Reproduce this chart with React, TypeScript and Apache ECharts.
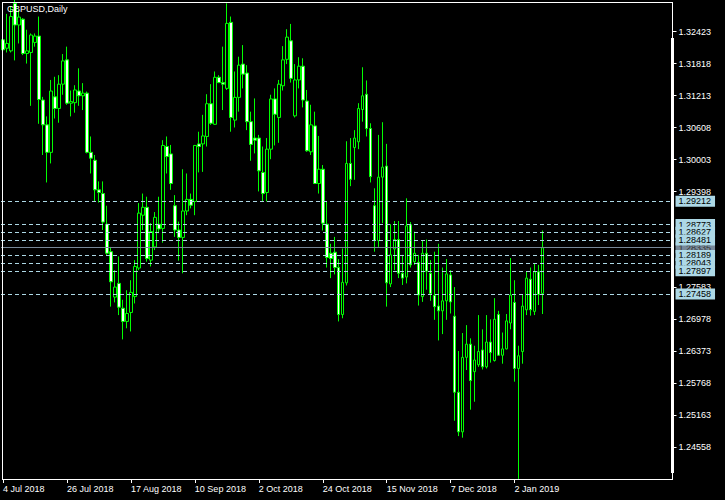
import React, { useEffect, useRef } from "react";
import * as echarts from "echarts";

// trading days shown (categories)
const monthDays: [string, string, number[]][] = [
  ["Jul", "2018", [4, 5, 6, 9, 10, 11, 12, 13, 16, 17, 18, 19, 20, 23, 24, 25, 26, 27, 30, 31]],
  ["Aug", "2018", [1, 2, 3, 6, 7, 8, 9, 10, 13, 14, 15, 16, 17, 20, 21, 22, 23, 24, 27, 28, 29, 30, 31]],
  ["Sep", "2018", [3, 4, 5, 6, 7, 10, 11, 12, 13, 14, 17, 18, 19, 20, 21, 24, 25, 26, 27, 28]],
  ["Oct", "2018", [1, 2, 3, 4, 5, 8, 9, 10, 11, 12, 15, 16, 17, 18, 19, 22, 23, 24, 25, 26, 29, 30, 31]],
  ["Nov", "2018", [1, 2, 5, 6, 7, 8, 9, 12, 13, 14, 15, 16, 19, 20, 21, 22, 23, 26, 27, 28, 29, 30]],
  ["Dec", "2018", [3, 4, 5, 6, 7, 10, 11, 12, 13, 14, 17, 18, 19, 20, 21, 24, 26, 27, 28, 31]],
  ["Jan", "2019", [2, 3, 4, 7, 8, 9, 10, 11]],
];
const dates: string[] = monthDays.flatMap(([m, y, ds]) => ds.map((d) => `${d} ${m} ${y}`));

const opens = [
  1.3227, 1.3211, 1.3206, 1.3296, 1.3255, 1.3266, 1.3201, 1.3203, 1.3222, 1.3234,
  1.3113, 1.3066, 1.3014, 1.3119, 1.3097, 1.3143, 1.3189, 1.3107, 1.3108, 1.3130,
  1.3121, 1.3126, 1.3014, 1.2999, 1.2943, 1.2936, 1.2878, 1.2826, 1.2740, 1.2766,
  1.2719, 1.2694, 1.2711, 1.2741, 1.2795, 1.2895, 1.2910, 1.2810, 1.2835, 1.2878,
  1.2870, 1.3025, 1.3011, 1.2913, 1.2867, 1.2853, 1.2903, 1.2925, 1.2921, 1.3030,
  1.3030, 1.3044, 1.3106, 1.3067, 1.3156, 1.3146, 1.3135, 1.3260, 1.3075, 1.3118,
  1.3181, 1.3164, 1.3072, 1.3041, 1.3041, 1.2976, 1.2938, 1.3020, 1.3115, 1.3080,
  1.3140, 1.3190, 1.3225, 1.3083, 1.3151, 1.3177, 1.3111, 1.3015, 1.3064, 1.2955,
  1.2982, 1.2878, 1.2823, 1.2825, 1.2796, 1.2707, 1.2767, 1.2993, 1.3023, 1.3034,
  1.3095, 1.3124, 1.3059, 1.2913, 1.2847, 1.2967, 1.2988, 1.2765, 1.2831, 1.2849,
  1.2785, 1.2778, 1.2877, 1.2807, 1.2806, 1.2741, 1.2823, 1.2785, 1.2743, 1.2723,
  1.2714, 1.2733, 1.2782, 1.2704, 1.2560, 1.2485, 1.2626, 1.2651, 1.2599, 1.2612,
  1.2640, 1.2608, 1.2655, 1.2620, 1.2707, 1.2630, 1.2642, 1.2691, 1.2730, 1.2605,
  1.2637, 1.2716, 1.2774, 1.2713, 1.2788, 1.2747,
];
const highs = [
  1.3228, 1.3276, 1.3291, 1.3305, 1.3283, 1.3268, 1.3246, 1.3239, 1.3239, 1.3271,
  1.3119, 1.3082, 1.3151, 1.3157, 1.3160, 1.3200, 1.3214, 1.3131, 1.3141, 1.3173,
  1.3145, 1.3129, 1.3044, 1.3009, 1.2959, 1.2959, 1.2913, 1.2835, 1.2791, 1.2817,
  1.2735, 1.2753, 1.2772, 1.2810, 1.2918, 1.2936, 1.2930, 1.2880, 1.2901, 1.2930,
  1.3037, 1.3044, 1.3028, 1.2933, 1.2883, 1.2982, 1.2974, 1.2936, 1.3028, 1.3053,
  1.3085, 1.3124, 1.3143, 1.3167, 1.3160, 1.3214, 1.3296, 1.3271, 1.3167, 1.3195,
  1.3217, 1.3179, 1.3091, 1.3116, 1.3047, 1.3025, 1.3041, 1.3123, 1.3135, 1.3151,
  1.3215, 1.3247, 1.3257, 1.3181, 1.3194, 1.3192, 1.3132, 1.3104, 1.3091, 1.3045,
  1.2990, 1.2922, 1.2841, 1.2854, 1.2812, 1.2832, 1.3035, 1.3041, 1.3056, 1.3107,
  1.3175, 1.3150, 1.3069, 1.2946, 1.3047, 1.3071, 1.3030, 1.2878, 1.2884, 1.2884,
  1.2820, 1.2927, 1.2882, 1.2864, 1.2820, 1.2848, 1.2849, 1.2810, 1.2826, 1.2841,
  1.2796, 1.2812, 1.2791, 1.2759, 1.2638, 1.2672, 1.2687, 1.2662, 1.2648, 1.2706,
  1.2679, 1.2706, 1.2698, 1.2738, 1.2714, 1.2673, 1.2708, 1.2814, 1.2772, 1.2648,
  1.2744, 1.2789, 1.2796, 1.2804, 1.2801, 1.2866,
];
const lows = [
  1.3189, 1.3203, 1.3203, 1.3188, 1.3220, 1.3198, 1.3182, 1.3102, 1.3214, 1.3068,
  1.3009, 1.2957, 1.2993, 1.3078, 1.3070, 1.3123, 1.3104, 1.3082, 1.3089, 1.3102,
  1.3094, 1.3012, 1.2974, 1.2921, 1.2919, 1.2867, 1.2820, 1.2722, 1.2730, 1.2706,
  1.2660, 1.2681, 1.2675, 1.2728, 1.2791, 1.2867, 1.2807, 1.2798, 1.2829, 1.2861,
  1.2843, 1.2974, 1.2943, 1.2854, 1.2809, 1.2785, 1.2895, 1.2908, 1.2895, 1.2976,
  1.2977, 1.3025, 1.3066, 1.3066, 1.3145, 1.3094, 1.3132, 1.3053, 1.3061, 1.3091,
  1.3135, 1.3056, 1.2998, 1.3012, 1.2940, 1.2921, 1.2921, 1.3001, 1.3027, 1.3032,
  1.3131, 1.3181, 1.3146, 1.3080, 1.3135, 1.3099, 1.3015, 1.3009, 1.2954, 1.2936,
  1.2866, 1.2796, 1.2776, 1.2783, 1.2694, 1.2700, 1.2762, 1.2950, 1.2962, 1.3020,
  1.3072, 1.3044, 1.2957, 1.2826, 1.2835, 1.2880, 1.2722, 1.2759, 1.2791, 1.2776,
  1.2763, 1.2766, 1.2796, 1.2801, 1.2724, 1.2731, 1.2754, 1.2733, 1.2697, 1.2658,
  1.2670, 1.2697, 1.2709, 1.2506, 1.2477, 1.2474, 1.2602, 1.2527, 1.2542, 1.2608,
  1.2603, 1.2605, 1.2616, 1.2618, 1.2629, 1.2614, 1.2641, 1.2679, 1.2580, 1.2396,
  1.2614, 1.2706, 1.2705, 1.2706, 1.2725, 1.2708,
];
const closes = [
  1.3208, 1.3220, 1.3271, 1.3255, 1.3270, 1.3201, 1.3206, 1.3236, 1.3234, 1.3114,
  1.3066, 1.3014, 1.3130, 1.3097, 1.3143, 1.3187, 1.3107, 1.3110, 1.3132, 1.3121,
  1.3126, 1.3014, 1.3003, 1.2943, 1.2938, 1.2882, 1.2823, 1.2769, 1.2759, 1.2721,
  1.2694, 1.2709, 1.2749, 1.2798, 1.2899, 1.2910, 1.2813, 1.2864, 1.2891, 1.2869,
  1.3027, 1.3006, 1.2955, 1.2867, 1.2853, 1.2903, 1.2925, 1.2914, 1.3027, 1.3025,
  1.3045, 1.3106, 1.3069, 1.3156, 1.3146, 1.3143, 1.3258, 1.3080, 1.3118, 1.3179,
  1.3162, 1.3072, 1.3029, 1.3037, 1.2979, 1.2936, 1.3020, 1.3115, 1.3086, 1.3143,
  1.3189, 1.3232, 1.3154, 1.3151, 1.3177, 1.3113, 1.3017, 1.3066, 1.2955, 1.2982,
  1.2880, 1.2815, 1.2813, 1.2796, 1.2707, 1.2768, 1.2993, 1.2963, 1.3041, 1.3097,
  1.3121, 1.3059, 1.2968, 1.2847, 1.2967, 1.2986, 1.2767, 1.2820, 1.2849, 1.2785,
  1.2776, 1.2875, 1.2801, 1.2823, 1.2744, 1.2823, 1.2789, 1.2747, 1.2722, 1.2714,
  1.2733, 1.2784, 1.2731, 1.2560, 1.2485, 1.2626, 1.2651, 1.2582, 1.2621, 1.2637,
  1.2608, 1.2655, 1.2635, 1.2698, 1.2630, 1.2642, 1.2695, 1.2744, 1.2605, 1.2629,
  1.2723, 1.2776, 1.2716, 1.2788, 1.2745, 1.28335,
];

// horizontal levels and bid line
const levels = [1.29212, 1.28773, 1.28627, 1.28481, 1.28189, 1.28043, 1.27897, 1.27458];
const bidLine = 1.28335;

// price scale tick labels
const yTicks = [
  1.24558, 1.25163, 1.25768, 1.26373, 1.26978, 1.27583, 1.29398, 1.30003, 1.30608, 1.31213,
  1.31818, 1.32423,
];
const yMin = 1.23958;
const yMax = 1.32985;
const totalSlots = 168;
const title = "GBPUSD,Daily";

export default function App() {
  const ref = useRef<HTMLDivElement>(null);
  useEffect(() => {
    const el = ref.current!;
    const chart = echarts.init(el, undefined, { renderer: "svg" });
    const cats = [...dates, ...Array(totalSlots - dates.length).fill("")];
    const candle = dates.map((_, i) => [opens[i], closes[i], lows[i], highs[i]]);
    const font = "Liberation Sans";
    const showIdx = (i: number) => i % 16 === 0 && i < dates.length;
    const white = "#ffffff";
    const lb = "#ADD8E6";
    const option: any = {
      animation: false,
      backgroundColor: "#000000",
      grid: { left: 0.5, top: 2, width: 672, height: 477 },
      xAxis: {
        type: "category",
        data: cats,
        boundaryGap: true,
        axisLine: { show: false },
        axisTick: {
          show: true,
          alignWithLabel: true,
          interval: (i: number) => showIdx(i),
          length: 4,
          lineStyle: { color: white, width: 1 },
        },
        axisLabel: {
          interval: (i: number) => showIdx(i),
          color: white,
          fontSize: 9,
          fontFamily: font,
          align: "left",
          margin: 5,
        },
        splitLine: { show: false },
      },
      yAxis: {
        type: "value",
        position: "right",
        min: yMin,
        max: yMax,
        axisLine: { show: false },
        axisTick: {
          show: true,
          length: 4,
          lineStyle: { color: white },
          customValues: yTicks,
        },
        axisLabel: {
          color: white,
          fontSize: 9,
          fontFamily: font,
          margin: 6,
          customValues: yTicks,
          formatter: (v: number) => v.toFixed(5),
        },
        splitLine: { show: false },
      },
      series: [
        {
          type: "candlestick",
          data: candle,
          barWidth: 3,
          itemStyle: {
            color: "#000000",
            color0: white,
            borderColor: "#00ff00",
            borderColor0: "#00ff00",
            borderColorDoji: "#00ff00",
            borderWidth: 1,
          },
          emphasis: { disabled: true },
          markLine: {
            silent: true,
            precision: 5,
            symbol: ["none", "none"],
            animation: false,
            lineStyle: { color: lb, type: [4, 3], width: 1 },
            label: {
              show: true,
              position: "end",
              distance: 3,
              formatter: (p: any) => Number(p.value).toFixed(5),
              color: "#000000",
              backgroundColor: lb,
              fontSize: 9,
              fontFamily: font,
              lineHeight: 10,
              padding: [1, 4, 0, 3],
            },
            emphasis: { disabled: true },
            data: [
              {
                yAxis: bidLine,
                lineStyle: { color: "#778899", type: "solid", width: 1 },
                label: { backgroundColor: "#778899", color: "#333333" },
              },
              ...levels.map((v) => ({ yAxis: v })),
            ],
          },
        },
      ],
      graphic: [
        { type: "rect", shape: { x: 2, y: 2, width: 671, height: 1 }, style: { fill: white }, z: 50, silent: true },
        { type: "rect", shape: { x: 2, y: 2, width: 1, height: 478 }, style: { fill: white }, z: 50, silent: true },
        { type: "rect", shape: { x: 2, y: 479, width: 671, height: 1 }, style: { fill: white }, z: 50, silent: true },
        { type: "rect", shape: { x: 672, y: 2, width: 1, height: 478 }, style: { fill: white }, z: 50, silent: true },
        { type: "rect", shape: { x: 671, y: 38, width: 3, height: 435 }, style: { fill: white }, z: 50, silent: true },
        {
          type: "text",
          x: 7,
          y: 4,
          z: 60,
          silent: true,
          style: { text: title, fill: white, font: `9px "${font}"`, textVerticalAlign: "top" },
        },
      ],
    };
    chart.setOption(option);
    return () => chart.dispose();
  }, []);
  return (
    <div
      ref={ref}
      style={{ position: "fixed", left: 0, top: 0, width: 725, height: 500, background: "#000" }}
    />
  );
}
